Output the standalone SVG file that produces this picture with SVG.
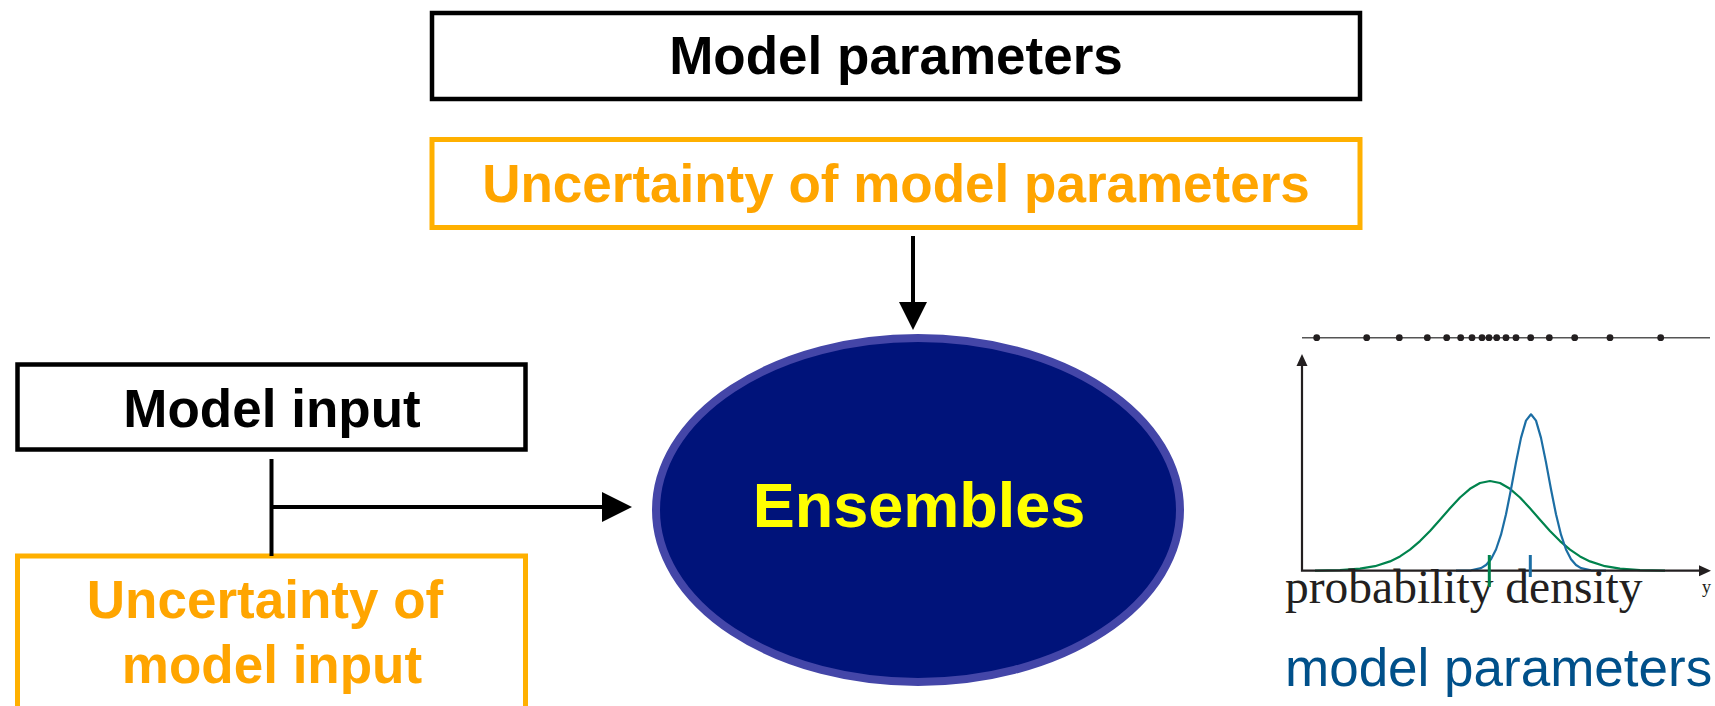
<svg xmlns="http://www.w3.org/2000/svg" width="1715" height="706" viewBox="0 0 1715 706">
<defs>
<style>
.box{fill:#fff;stroke:#000;stroke-width:4.5}
.obox{fill:#fff;stroke:#FFB000;stroke-width:5}
.lbl{font-family:"Liberation Sans",Arial,sans-serif;font-weight:bold;font-size:53px;text-anchor:middle}
.blk{fill:#000}
.org{fill:#FFA500}
.conn{stroke:#000;stroke-width:4;fill:none}
.axis{stroke:#231f20;stroke-width:2.2;fill:none}
</style>
</defs>
<rect width="1715" height="706" fill="#fff"/>
<g id="model-parameters">
<rect class="box" x="432" y="13" width="928" height="86"/>
<text class="lbl blk" x="896" y="74">Model parameters</text>
</g>
<g id="uncertainty-parameters">
<rect class="obox" x="432" y="139.5" width="928" height="88"/>
<text class="lbl org" x="896" y="202">Uncertainty of model parameters</text>
</g>
<g id="model-input">
<rect class="box" x="17.5" y="364.5" width="508" height="85"/>
<text class="lbl blk" x="272" y="427">Model input</text>
</g>
<g id="uncertainty-input">
<rect class="obox" x="17.5" y="556" width="508" height="200"/>
<text class="lbl org" x="265" y="618">Uncertainty of</text>
<text class="lbl org" x="272" y="683">model input</text>
</g>
<g id="ensembles">
<ellipse cx="918" cy="510" rx="262" ry="172" fill="#00137A" stroke="#4446A8" stroke-width="8"/>
<text x="919" y="527" font-family="'Liberation Sans',Arial,sans-serif" font-weight="bold" font-size="63" fill="#FFFF00" text-anchor="middle">Ensembles</text>
</g>
<g id="connectors">
<line class="conn" x1="913" y1="236" x2="913" y2="304"/>
<polygon points="899,302 927,302 913,330" fill="#000"/>
<line class="conn" x1="271.5" y1="459" x2="271.5" y2="556"/>
<line class="conn" x1="271.5" y1="507" x2="604" y2="507"/>
<polygon points="602,492 602,522 632,507" fill="#000"/>
</g>
<g id="chart">
<line x1="1302" y1="337.7" x2="1710" y2="337.7" stroke="#555" stroke-width="1.6"/>
<g fill="#231f20">
<circle cx="1316.7" cy="337.7" r="3.4"/><circle cx="1366.7" cy="337.7" r="3.4"/><circle cx="1399.3" cy="337.7" r="3.4"/><circle cx="1427.3" cy="337.7" r="3.4"/><circle cx="1446.7" cy="337.7" r="3.4"/><circle cx="1460.7" cy="337.7" r="3.4"/><circle cx="1472" cy="337.7" r="3.4"/><circle cx="1482" cy="337.7" r="3.4"/><circle cx="1489" cy="337.7" r="3.4"/><circle cx="1496.7" cy="337.7" r="3.4"/><circle cx="1506" cy="337.7" r="3.4"/><circle cx="1516" cy="337.7" r="3.4"/><circle cx="1530.7" cy="337.7" r="3.4"/><circle cx="1549.3" cy="337.7" r="3.4"/><circle cx="1574.7" cy="337.7" r="3.4"/><circle cx="1610" cy="337.7" r="3.4"/><circle cx="1660.7" cy="337.7" r="3.4"/>
</g>
<polyline fill="none" stroke="#00834D" stroke-width="2.2" stroke-linejoin="round" points="1315,570.6 1340,570.1 1360,568.7 1375,566.2 1390,561.4 1400,556.4 1410,549.6 1420,541.1 1430,531.0 1440,519.8 1450,508.3 1460,497.5 1470,488.8 1480,483.0 1490,481.0 1500,483.0 1510,488.8 1520,497.5 1530,508.3 1540,519.8 1550,531.0 1560,541.1 1570,549.6 1580,556.4 1590,561.4 1605,566.2 1620,568.7 1640,570.1 1665,570.6"/>
<polyline fill="none" stroke="#1C6EA4" stroke-width="2.2" stroke-linejoin="round" points="1456,570.7 1471,570.3 1481,568.1 1486,565.0 1491,559.2 1496,549.5 1501,534.7 1506,514.3 1511,489.3 1516,462.4 1521,437.9 1526,420.6 1531,414.3 1536,420.6 1541,437.9 1546,462.4 1551,489.3 1556,514.3 1561,534.7 1566,549.5 1571,559.2 1576,565.0 1581,568.1 1591,570.3 1606,570.7"/>
<polyline class="axis" points="1302,363 1302,570.7 1702,570.7"/>
<polygon points="1302,354 1296.5,366 1307.5,366" fill="#231f20"/>
<polygon points="1711,570.7 1699,565.2 1699,576.2" fill="#231f20"/>
<text x="1285" y="603" font-family="'Liberation Serif','Times New Roman',serif" font-size="47.5" fill="#231f20">probability density</text>
<line x1="1489.3" y1="555" x2="1489.3" y2="587" stroke="#00834D" stroke-width="3"/>
<line x1="1530.3" y1="555" x2="1530.3" y2="577" stroke="#1C6EA4" stroke-width="3"/>
<text x="1702" y="593" font-family="'Liberation Serif','Times New Roman',serif" font-size="18" fill="#231f20">y</text>
<text x="1285" y="686" font-family="'Liberation Sans',Arial,sans-serif" font-size="53" fill="#00508A">model parameters</text>
</g>
</svg>
